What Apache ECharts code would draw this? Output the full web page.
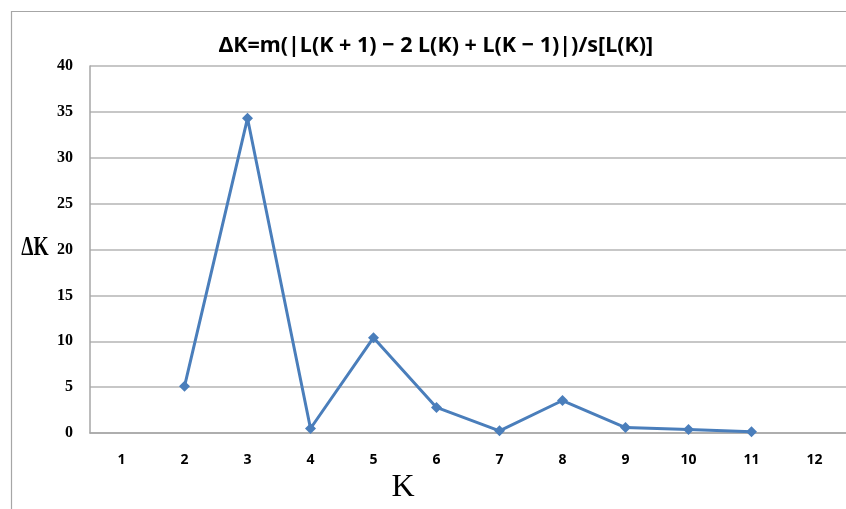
<!DOCTYPE html>
<html>
<head>
<meta charset="utf-8">
<script src="https://cdn.jsdelivr.net/npm/echarts@6/dist/echarts.min.js"></script>
<style>html,body{margin:0;padding:0;background:#fff;}#c{width:846px;height:509px;}</style>
</head>
<body>
<div id="c"></div>
<script>
const categories = ['1','2','3','4','5','6','7','8','9','10','11','12'];
const deltaK = [null, 5.1, 34.3, 0.5, 10.4, 2.8, 0.25, 3.55, 0.6, 0.38, 0.14, null];
const yTicks = {min: 0, max: 40, interval: 5};
const titleText = 'ΔK=m(|L(K + 1) − 2 L(K) + L(K − 1)|)/s[L(K)]';
const yAxisName = 'ΔK';

const chart = echarts.init(document.getElementById('c'));
chart.setOption({
  animation: false,
  backgroundColor: '#fff',
  graphic: [{
    type: 'rect', left: 9, top: 9, z: -1,
    shape: {width: 900, height: 600},
    style: {fill: 'none', stroke: '#a6a6a6', lineWidth: 1.2}
  }, {
    type: 'text', x: 35, y: 248, scaleX: 0.72,
    style: {text: yAxisName, fontFamily: 'Liberation Serif', fontWeight: 'bold', fontSize: 27,
            fill: '#000', align: 'center', verticalAlign: 'middle'}
  }],
  title: {
    text: titleText, left: 431, top: 30, textAlign: 'center',
    textStyle: {fontFamily: 'Noto Sans', fontWeight: 'bold', fontSize: 21.5, color: '#000'}
  },
  grid: {left: 90, top: 66, right: 0, bottom: 72, containLabel: false},
  xAxis: {
    type: 'category', data: categories, boundaryGap: true,
    name: 'K', nameLocation: 'middle', nameGap: 38,
    nameTextStyle: {fontFamily: 'Liberation Serif', fontSize: 32, color: '#000', padding: [0, 130, 0, 0]},
    axisLine: {lineStyle: {color: '#a6a6a6', width: 1.5}},
    axisTick: {show: false},
    axisLabel: {margin: 20, fontFamily: 'Noto Sans', fontWeight: 'bold', fontSize: 14, color: '#000'}
  },
  yAxis: {
    type: 'value', min: yTicks.min, max: yTicks.max, interval: yTicks.interval,
    axisLine: {show: true, lineStyle: {color: '#a6a6a6', width: 1.5}},
    axisTick: {show: false},
    splitLine: {lineStyle: {color: '#b5b5b5', width: 1.5}},
    axisLabel: {margin: 17, fontFamily: 'Liberation Serif', fontWeight: 'bold', fontSize: 16, color: '#000'}
  },
  series: [{
    type: 'line', data: deltaK, connectNulls: false,
    symbol: 'diamond', symbolSize: 11,
    lineStyle: {color: '#4a7ebb', width: 3},
    itemStyle: {color: '#4a7ebb'}
  }]
});
</script>
</body>
</html>
